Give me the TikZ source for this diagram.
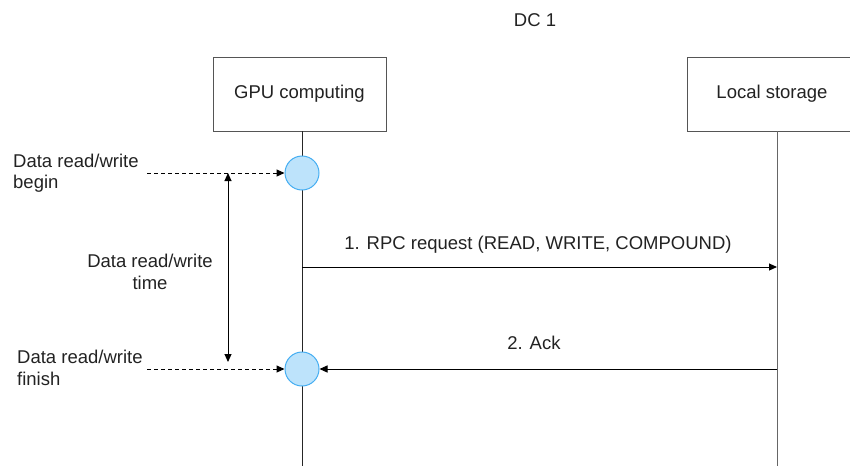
\documentclass[tikz,border=0pt]{standalone}
\usepackage{fontspec}
\setmainfont{Liberation Sans}
\usetikzlibrary{arrows.meta}
\definecolor{txt}{HTML}{222222}
\definecolor{boxline}{HTML}{555555}
\definecolor{cfill}{HTML}{BDE3FB}
\definecolor{cline}{HTML}{45AEF2}
\begin{document}
\begin{tikzpicture}[x=1pt,y=-1pt,
  every node/.style={font=\fontsize{18.5}{21.5}\selectfont, text=txt, inner sep=0pt},
  actor/.style={draw=boxline, line width=1pt, minimum height=74pt, fill=white},
  life/.style={draw=black!85, line width=1pt},
  evt/.style={circle, draw=cline, fill=cfill, line width=1pt, minimum size=34pt},
  msg/.style={draw=black, line width=1pt, -{Triangle[length=8pt,width=7pt]}},
  dsh/.style={draw=black, line width=1pt, dashed, dash pattern=on 4pt off 3pt, -{Triangle[length=8pt,width=7pt]}},
  lbl/.style={align=left}]
\useasboundingbox (0,0) rectangle (850,466);
\node (dc) at (535,20) {DC 1};
\node[actor, minimum width=173pt] (gpu) at (299.5,94) {GPU computing};
\node[actor, minimum width=180pt] (ls) at (777,94) {};
\node at (772,94) {Local storage};
\coordinate (gtop) at (302,131);
\coordinate (gbot) at (302,466);
\coordinate (ltop) at (777,131);
\coordinate (lbot) at (777,466);
\draw[life] (gtop) -- (gbot);
\draw[life, draw=black!60] (ltop) -- (lbot);
\node[evt] (c1) at (302,173) {};
\node[evt] (c2) at (302,369) {};
\node[lbl, anchor=west] (lb) at (13,173) {Data read/write\\begin};
\node[lbl, anchor=west] (lf) at (17,368) {Data read/write\\finish};
\node[align=center] (lt) at (150,272) {Data read/write\\time};
\coordinate (db) at (147,173);
\coordinate (df) at (147,369);
\draw[dsh] (db) -- (c1);
\draw[dsh] (df) -- (c2);
\coordinate (ta) at (228,173);
\coordinate (tb) at (228,362);
\draw[line width=1pt, {Triangle[length=8pt,width=7pt]}-{Triangle[length=8pt,width=7pt]}] (ta) -- (tb);
\coordinate (rq1) at (302,267);
\coordinate (rq2) at (777,267);
\draw[msg] (rq1) -- (rq2);
\node (rql) at (538,245) {1. RPC request (READ, WRITE, COMPOUND)};
\coordinate (ak) at (777,369);
\draw[msg] (ak) -- (c2);
\node (akl) at (534,343) {2. Ack};
\end{tikzpicture}
\end{document}
